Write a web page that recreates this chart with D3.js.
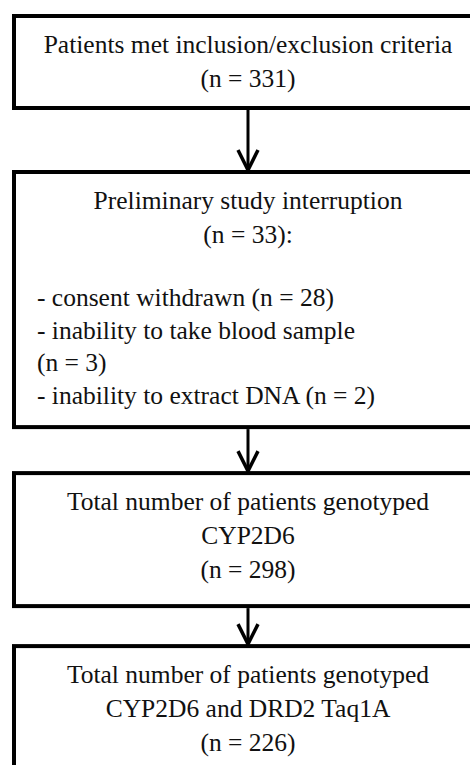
<!DOCTYPE html>
<html><head><meta charset="utf-8">
<script src="https://cdn.jsdelivr.net/npm/d3@7"></script>
<style>
html,body{margin:0;padding:0;background:#fff;}
svg{display:block;}
</style></head>
<body>
<script>
// ---- data ----
const boxTitles = [
  ["Patients met inclusion/exclusion criteria"],
  ["Preliminary study interruption"],
  ["Total number of patients genotyped", "CYP2D6"],
  ["Total number of patients genotyped", "CYP2D6 and DRD2 Taq1A"]
];
const boxCounts = [331, 33, 298, 226];
const countSuffix = ["", ":", "", ""];
const exclusionReasons = [
  "- consent withdrawn (n = 28)",
  "- inability to take blood sample",
  "(n = 3)",
  "- inability to extract DNA (n = 2)"
];

// ---- layout ----
const W = 470, H = 765;
const svg = d3.select("body").append("svg").attr("width", W).attr("height", H);
const font = "'Liberation Serif','Times New Roman',serif";
const fs = 25.5, lh = 34;
const left = 14, right = 490, cx = 248, listX = 37;
const firstBase = 37;
const bottomPad = [21, 23, 28, 28];
const gap = [64, 46, 40];

// build boxes
const boxes = [];
let yCursor = 16;
boxTitles.forEach((t, i) => {
  const lines = t.map(s => ({text: s, anchor: "middle"}));
  lines.push({text: "(n = " + boxCounts[i] + ")" + countSuffix[i], anchor: "middle"});
  const centered = lines.length;
  let bases = d3.range(centered).map(k => firstBase + k * lh);
  let last = bases[bases.length - 1];
  if (i === 1) {
    exclusionReasons.forEach((r, k) => {
      lines.push({text: r, anchor: "start"});
      bases.push(last + 63 + k * 32.7);
    });
  }
  const height = bases[bases.length - 1] + bottomPad[i];
  boxes.push({top: yCursor, height, lines, bases});
  yCursor += height + (gap[i] || 0);
});

const g = svg.append("g");
boxes.forEach(b => {
  g.append("rect").attr("x", left).attr("y", b.top)
    .attr("width", right - left).attr("height", b.height)
    .attr("fill", "#fff").attr("stroke", "#000").attr("stroke-width", 4);
  b.lines.forEach((l, k) => {
    g.append("text")
      .attr("x", l.anchor === "middle" ? cx : listX)
      .attr("y", b.top + b.bases[k])
      .attr("text-anchor", l.anchor)
      .attr("font-family", font).attr("font-size", fs)
      .attr("fill", "#111")
      .text(l.text);
  });
});

// arrows
for (let i = 0; i < boxes.length - 1; i++) {
  const y0 = boxes[i].top + boxes[i].height + 2;
  const y1 = boxes[i + 1].top - 2;
  g.append("line").attr("x1", cx).attr("x2", cx).attr("y1", y0).attr("y2", y1)
    .attr("stroke", "#000").attr("stroke-width", 3);
  g.append("path")
    .attr("d", `M${cx - 10},${y1 - 20}L${cx},${y1}L${cx + 10},${y1 - 20}`)
    .attr("fill", "none").attr("stroke", "#000").attr("stroke-width", 3.5)
    .attr("stroke-linejoin", "miter");
}
</script>
</body></html>
